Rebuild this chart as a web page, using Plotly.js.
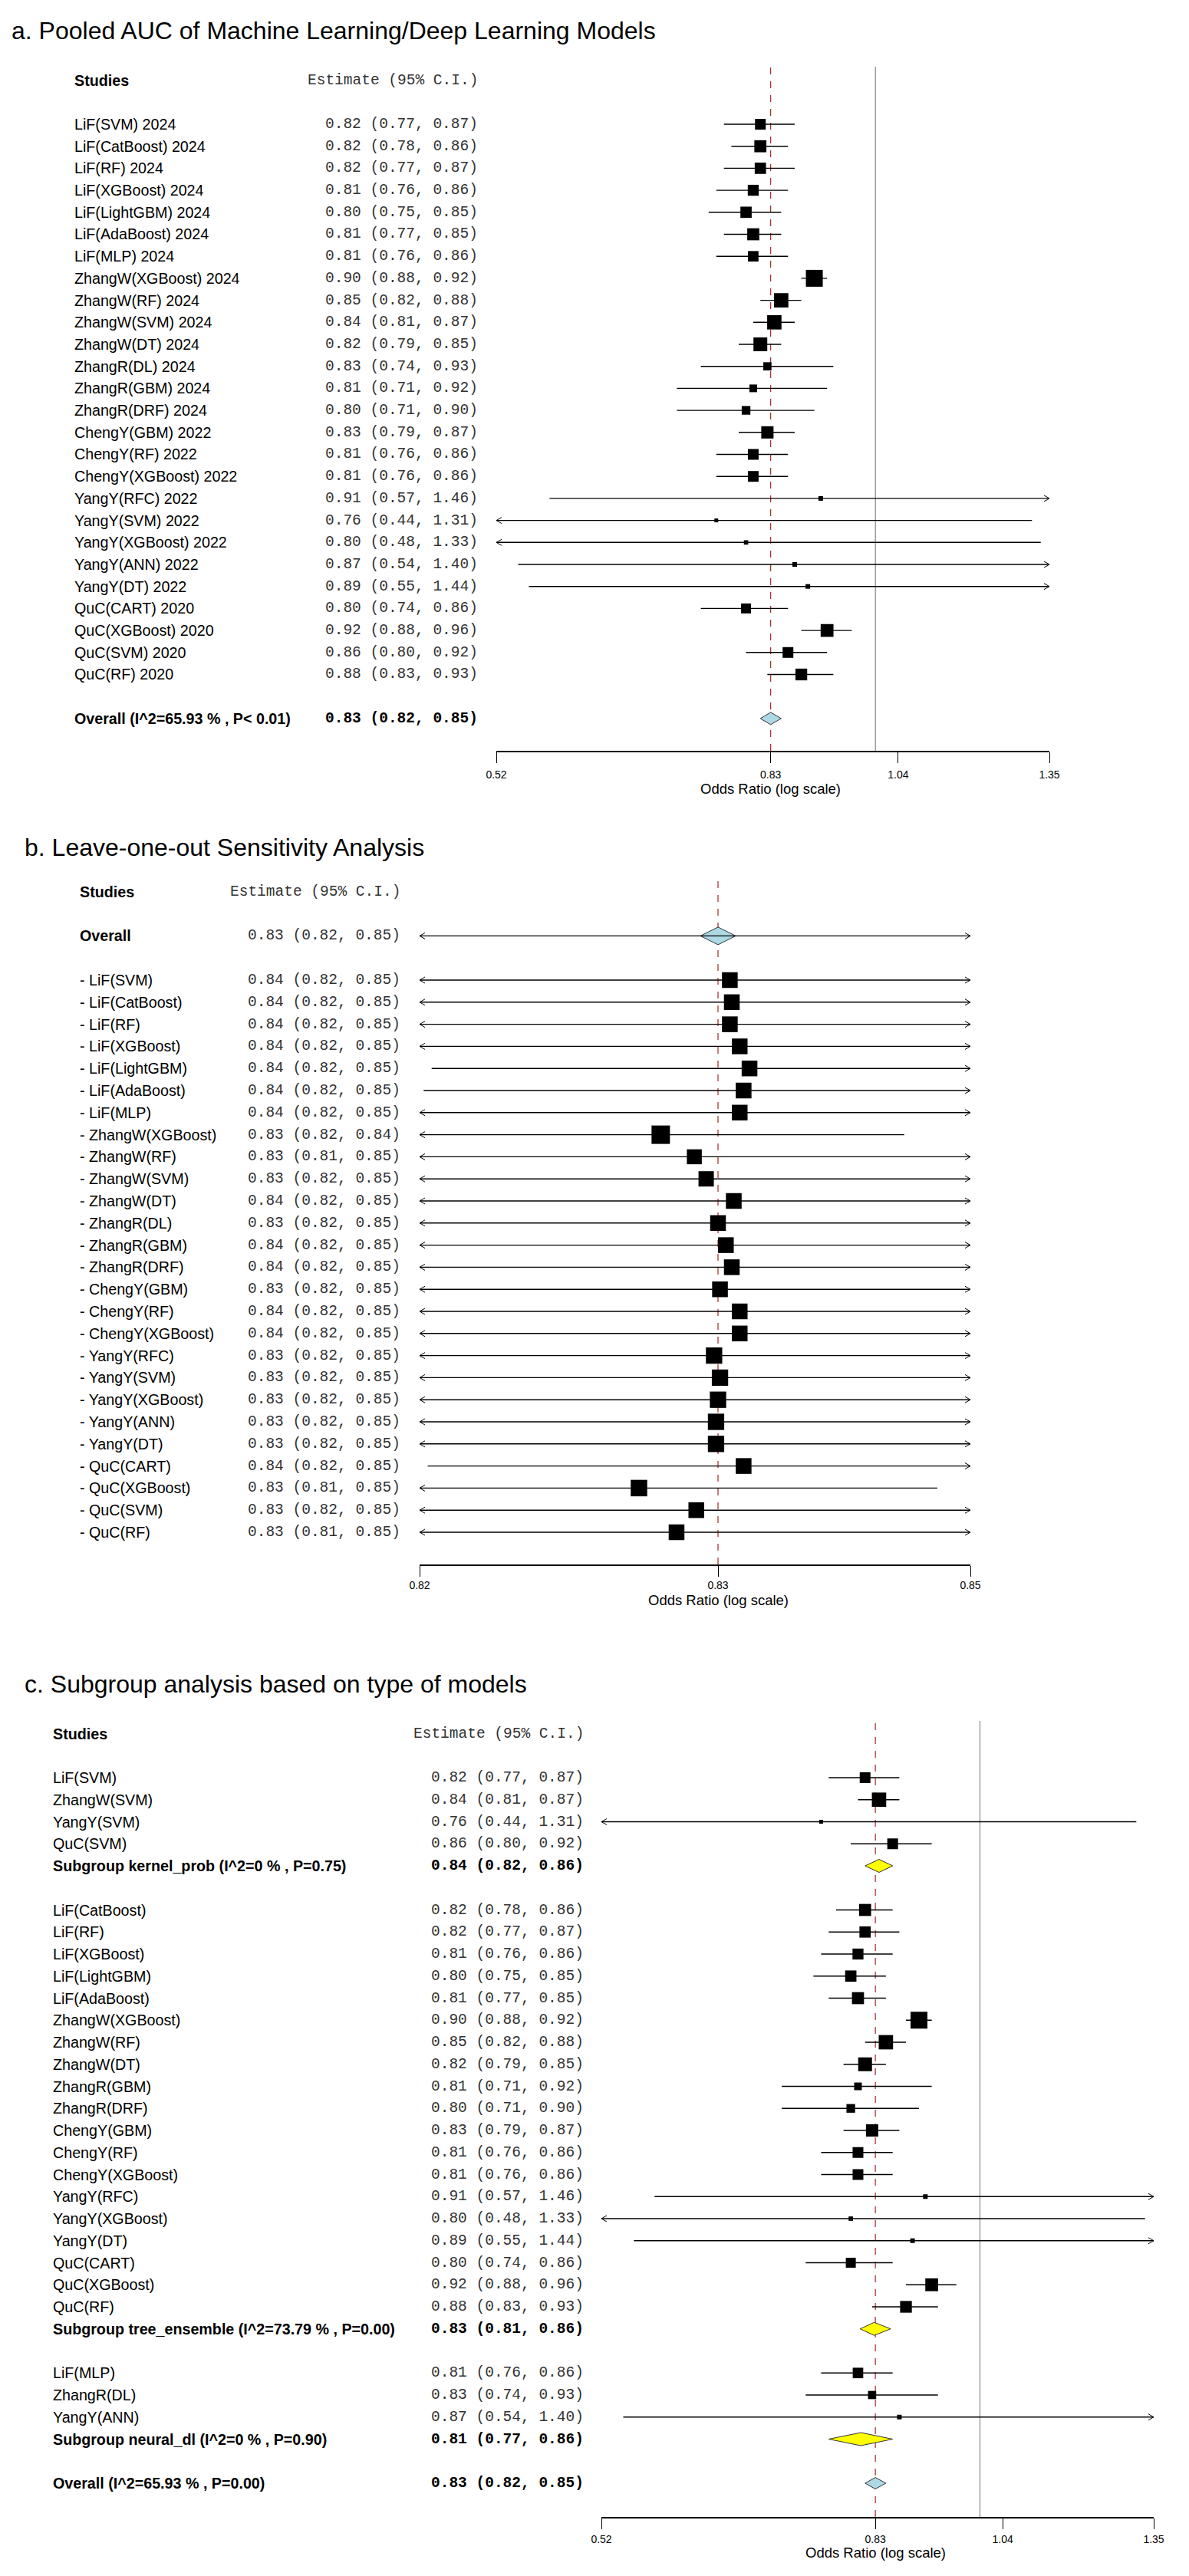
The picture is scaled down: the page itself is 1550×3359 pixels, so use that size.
<!DOCTYPE html>
<html>
<head>
<meta charset="utf-8">
<script src="https://cdn.plot.ly/plotly-3.0.1.min.js"></script>
<style>html,body{margin:0;padding:0;background:#fff}#chart{width:1550px;height:3359px}</style>
</head>
<body>
<div id="chart"></div>
<script>
// ================= DATA =================
// Panel a: pooled AUC per model
const studiesA = ["LiF(SVM) 2024","LiF(CatBoost) 2024","LiF(RF) 2024","LiF(XGBoost) 2024","LiF(LightGBM) 2024","LiF(AdaBoost) 2024","LiF(MLP) 2024","ZhangW(XGBoost) 2024","ZhangW(RF) 2024","ZhangW(SVM) 2024","ZhangW(DT) 2024","ZhangR(DL) 2024","ZhangR(GBM) 2024","ZhangR(DRF) 2024","ChengY(GBM) 2022","ChengY(RF) 2022","ChengY(XGBoost) 2022","YangY(RFC) 2022","YangY(SVM) 2022","YangY(XGBoost) 2022","YangY(ANN) 2022","YangY(DT) 2022","QuC(CART) 2020","QuC(XGBoost) 2020","QuC(SVM) 2020","QuC(RF) 2020"];
const estA  = [0.82,0.82,0.82,0.81,0.80,0.81,0.81,0.90,0.85,0.84,0.82,0.83,0.81,0.80,0.83,0.81,0.81,0.91,0.76,0.80,0.87,0.89,0.80,0.92,0.86,0.88];
const lowA  = [0.77,0.78,0.77,0.76,0.75,0.77,0.76,0.88,0.82,0.81,0.79,0.74,0.71,0.71,0.79,0.76,0.76,0.57,0.44,0.48,0.54,0.55,0.74,0.88,0.80,0.83];
const highA = [0.87,0.86,0.87,0.86,0.85,0.85,0.86,0.92,0.88,0.87,0.85,0.93,0.92,0.90,0.87,0.86,0.86,1.46,1.31,1.33,1.40,1.44,0.86,0.96,0.92,0.93];
// relative study weights (box size)
const weightA = [1.40,1.57,1.47,1.43,1.47,1.57,1.37,2.20,1.87,1.87,1.80,1.07,1.00,1.13,1.60,1.40,1.40,0.60,0.50,0.57,0.60,0.60,1.30,1.67,1.40,1.53];
const overallEst = 0.8347, overallLow = 0.82, overallHigh = 0.85;
const overallI2 = "65.93";
const ticksA = [0.52, 0.8347, 1.04, 1.35];
const tickTextA = ["0.52","0.83","1.04","1.35"];

// Panel b: leave-one-out
const studiesB = ["- LiF(SVM)","- LiF(CatBoost)","- LiF(RF)","- LiF(XGBoost)","- LiF(LightGBM)","- LiF(AdaBoost)","- LiF(MLP)","- ZhangW(XGBoost)","- ZhangW(RF)","- ZhangW(SVM)","- ZhangW(DT)","- ZhangR(DL)","- ZhangR(GBM)","- ZhangR(DRF)","- ChengY(GBM)","- ChengY(RF)","- ChengY(XGBoost)","- YangY(RFC)","- YangY(SVM)","- YangY(XGBoost)","- YangY(ANN)","- YangY(DT)","- QuC(CART)","- QuC(XGBoost)","- QuC(SVM)","- QuC(RF)"];
const estB  = [0.8353,0.8354,0.8353,0.8358,0.8363,0.8360,0.8358,0.8318,0.8335,0.8341,0.8355,0.8347,0.8351,0.8354,0.8348,0.8358,0.8358,0.8345,0.8348,0.8347,0.8346,0.8346,0.8360,0.8307,0.8336,0.8326];
const lowB  = [0.818,0.818,0.818,0.818,0.8203,0.8199,0.818,0.818,0.813,0.818,0.818,0.818,0.818,0.818,0.818,0.818,0.818,0.818,0.818,0.818,0.818,0.818,0.8201,0.813,0.818,0.813];
const highB = [0.849,0.849,0.849,0.849,0.849,0.849,0.849,0.8442,0.849,0.849,0.849,0.849,0.849,0.849,0.849,0.849,0.849,0.849,0.849,0.849,0.849,0.849,0.849,0.8459,0.849,0.849];
const weightB = [2.05,2.05,2.05,2.05,2.05,2.05,2.05,2.40,1.95,2.00,2.05,2.05,2.05,2.05,2.05,2.05,2.05,2.13,2.13,2.13,2.13,2.13,2.05,2.15,2.05,2.05];
const overallLowB = 0.818, overallHighB = 0.849;
const ticksB = [0.8197, 0.8347, 0.8476];
const tickTextB = ["0.82","0.83","0.85"];

// Panel c: subgroups by model type
const groupNames = ["kernel_prob","tree_ensemble","neural_dl"];
const groupStudies = [
  ["LiF(SVM)","ZhangW(SVM)","YangY(SVM)","QuC(SVM)"],
  ["LiF(CatBoost)","LiF(RF)","LiF(XGBoost)","LiF(LightGBM)","LiF(AdaBoost)","ZhangW(XGBoost)","ZhangW(RF)","ZhangW(DT)","ZhangR(GBM)","ZhangR(DRF)","ChengY(GBM)","ChengY(RF)","ChengY(XGBoost)","YangY(RFC)","YangY(XGBoost)","YangY(DT)","QuC(CART)","QuC(XGBoost)","QuC(RF)"],
  ["LiF(MLP)","ZhangR(DL)","YangY(ANN)"]
];
const groupI2   = ["0","73.79","0"];
const groupP    = ["0.75","0.00","0.90"];
const groupEst  = [0.84, 0.833, 0.814];
const groupLow  = [0.82, 0.813, 0.77];
const groupHigh = [0.86, 0.857, 0.86];

// ================= HELPERS =================
const W = 1550, H = 3359;
const SANS = "Liberation Sans, Arial, sans-serif";
const MONO = "Liberation Mono, Courier New, monospace";
const LBL = 19.7, MON = 19.5;
const traces = [], annotations = [], layout = {};
const fmt = (e,l,h) => e.toFixed(2) + " (" + l.toFixed(2) + ", " + h.toFixed(2) + ")";
const px = v => v / W, py = v => 1 - v / H;
const RED = "#a52a2a";

function makePanel(id, cfg){
  const xa = id === 1 ? "x" : "x" + id, ya = id === 1 ? "y" : "y" + id;
  const xk = id === 1 ? "xaxis" : "xaxis" + id, yk = id === 1 ? "yaxis" : "yaxis" + id;
  const xmin = cfg.ticks[0], xmax = cfg.ticks[cfg.ticks.length - 1];
  const ppd = (cfg.xR - cfg.xL) / (Math.log10(xmax) - Math.log10(xmin));
  const yBot = (cfg.bot - cfg.r0) / cfg.ppr, yTop = (cfg.top - cfg.r0) / cfg.ppr;
  layout[xk] = {type:"log", domain:[px(cfg.xL), px(cfg.xR)], range:[Math.log10(xmin), Math.log10(xmax)], anchor:ya,
    showline:true, linecolor:"#000", linewidth:1.6, ticks:"outside", ticklen:14, tickwidth:1, tickcolor:"#000",
    tickvals:cfg.ticks, ticktext:cfg.tickText, tickfont:{family:SANS, size:14, color:"#000"}, ticklabelstandoff:cfg.tstand||0,
    showgrid:false, zeroline:false, fixedrange:true};
  layout[yk] = {domain:[py(cfg.bot), py(cfg.top)], range:[yBot, yTop], visible:false, anchor:xa, fixedrange:true};
  return {xa, ya, xmin, xmax, ppd, ppr:cfg.ppr, yBot, yTop};
}
function vline(P, x, color, dash, width){
  traces.push({type:"scatter", mode:"lines", x:[x,x], y:[P.yBot,P.yTop], xaxis:P.xa, yaxis:P.ya,
    line:{color:color, width:width, dash:dash}, hoverinfo:"skip"});
}
function whiskers(P, rows, lows, highs){
  const lx=[], ly=[], cx=[], cy=[];
  const d = Math.pow(10, 7 / P.ppd), h = 4 / P.ppr;
  rows.forEach((r,i)=>{
    const lo = Math.max(lows[i], P.xmin), hi = Math.min(highs[i], P.xmax);
    lx.push(lo, hi, null); ly.push(r, r, null);
    if (lows[i] < P.xmin){ cx.push(P.xmin*d, P.xmin, P.xmin*d, null); cy.push(r-h, r, r+h, null); }
    if (highs[i] > P.xmax){ cx.push(P.xmax/d, P.xmax, P.xmax/d, null); cy.push(r-h, r, r+h, null); }
  });
  traces.push({type:"scatter", mode:"lines", x:lx, y:ly, xaxis:P.xa, yaxis:P.ya, line:{color:"#000", width:1.4}, hoverinfo:"skip", connectgaps:false});
  if (cx.length) traces.push({type:"scatter", mode:"lines", x:cx, y:cy, xaxis:P.xa, yaxis:P.ya, line:{color:"#000", width:1}, hoverinfo:"skip", connectgaps:false});
}
function boxes(P, rows, ests, weights, scale){
  traces.push({type:"scatter", mode:"markers", x:ests, y:rows, xaxis:P.xa, yaxis:P.ya, opacity:1,
    marker:{symbol:"square", size:weights.map(w=>w*scale), color:"#000000", opacity:1, line:{width:0}}, hoverinfo:"skip"});
}
function diamond(P, r, lo, est, hi, halfH, fill){
  const h = halfH / P.ppr;
  traces.push({type:"scatter", mode:"lines", x:[lo,est,hi,est,lo], y:[r,r-h,r,r+h,r], xaxis:P.xa, yaxis:P.ya,
    fill:"toself", fillcolor:fill, line:{color:"#333", width:1}, hoverinfo:"skip"});
}
function text(t, xPix, yref, y, anchor, font){
  annotations.push({text:t, xref:"paper", x:px(xPix), yref:yref, y:y, xanchor:anchor, yanchor:"middle",
    showarrow:false, font:font});
}
const fLabel = {family:SANS, size:LBL, color:"#000"};
const fBold  = {family:SANS, size:LBL, color:"#000", weight:"bold"};
const fMono  = {family:MONO, size:MON, color:"#333"};
const fMonoB = {family:MONO, size:MON, color:"#000", weight:"bold"};
const fTitle = {family:SANS, size:32, color:"#000"};
const fAxT   = {family:SANS, size:18.5, color:"#000"};

// ================= PANEL A =================
(function(){
  const P = makePanel(1, {ticks:ticksA, tickText:tickTextA, xL:647, xR:1368, r0:162, ppr:28.7, top:87, bot:979, tstand:4});
  const rows = studiesA.map((_,i)=>i), rOv = studiesA.length + 1;
  vline(P, 1, "#707070", "solid", 1);
  vline(P, overallEst, RED, "dash", 1.2);
  whiskers(P, rows, lowA, highA);
  boxes(P, rows, estA, weightA, 10);
  diamond(P, rOv, overallLow, overallEst, overallHigh, 8, "#add8e6");
  annotations.push({text:"a. Pooled AUC of Machine Learning/Deep Learning Models", xref:"paper", x:px(13), yref:"paper", y:py(40), xanchor:"left", yanchor:"middle", showarrow:false, font:fTitle});
  text("Studies", 95, P.ya, -2, "left", fBold);
  text("Estimate (95% C.I.)", 625, P.ya, -2, "right", fMono);
  studiesA.forEach((s,i)=>{ text(s, 95, P.ya, i, "left", fLabel); text(fmt(estA[i],lowA[i],highA[i]), 625, P.ya, i, "right", fMono); });
  text("Overall (I^2=" + overallI2 + " % , P< 0.01)", 95, P.ya, rOv, "left", fBold);
  text(fmt(overallEst, overallLow, overallHigh), 625, P.ya, rOv, "right", fMonoB);
  annotations.push({text:"Odds Ratio (log scale)", xref:P.xa, x:Math.log10(overallEst), yref:"paper", y:py(1028), xanchor:"center", yanchor:"middle", showarrow:false, font:fAxT});
})();

// ================= PANEL B =================
(function(){
  const P = makePanel(2, {ticks:ticksB, tickText:tickTextB, xL:547, xR:1265, r0:1278, ppr:28.8, top:1147, bot:2040, tstand:0});
  const rows = studiesB.map((_,i)=>i);
  vline(P, overallEst, RED, "dash", 1.2);
  const dw = Math.pow(10, 23 / P.ppd);
  diamond(P, -2, overallEst/dw, overallEst, overallEst*dw, 11.5, "#add8e6");
  whiskers(P, [-2].concat(rows), [overallLowB].concat(lowB), [overallHighB].concat(highB));
  boxes(P, rows, estB, weightB, 10);
  annotations.push({text:"b. Leave-one-out Sensitivity Analysis", xref:"paper", x:px(30), yref:"paper", y:py(1105), xanchor:"left", yanchor:"middle", showarrow:false, font:fTitle});
  text("Studies", 102, P.ya, -4, "left", fBold);
  text("Estimate (95% C.I.)", 524, P.ya, -4, "right", fMono);
  text("Overall", 102, P.ya, -2, "left", fBold);
  text(fmt(overallEst, overallLowB, overallHighB), 524, P.ya, -2, "right", fMono);
  studiesB.forEach((s,i)=>{ text(s, 102, P.ya, i, "left", fLabel); text(fmt(estB[i],lowB[i],highB[i]), 524, P.ya, i, "right", fMono); });
  annotations.push({text:"Odds Ratio (log scale)", xref:P.xa, x:Math.log10(overallEst), yref:"paper", y:py(2086), xanchor:"center", yanchor:"middle", showarrow:false, font:fAxT});
})();

// ================= PANEL C =================
(function(){
  const P = makePanel(3, {ticks:ticksA, tickText:tickTextA, xL:784, xR:1504, r0:2318, ppr:28.75, top:2244, bot:3282, tstand:2});
  const keyA = studiesA.map(s=>s.replace(/ \d{4}$/, ""));
  vline(P, 1, "#707070", "solid", 1);
  vline(P, overallEst, RED, "dash", 1.2);
  const rows=[], est=[], lo=[], hi=[], wt=[];
  let r = 0;
  text("Studies", 67, P.ya, -2, "left", fBold);
  text("Estimate (95% C.I.)", 763, P.ya, -2, "right", fMono);
  groupNames.forEach((g,gi)=>{
    groupStudies[gi].forEach(name=>{
      const k = keyA.indexOf(name);
      rows.push(r); est.push(estA[k]); lo.push(lowA[k]); hi.push(highA[k]); wt.push(weightA[k]);
      text(name, 67, P.ya, r, "left", fLabel);
      text(fmt(estA[k], lowA[k], highA[k]), 763, P.ya, r, "right", fMono);
      r++;
    });
    diamond(P, r, groupLow[gi], groupEst[gi], groupHigh[gi], 8.5, "#ffff00");
    text("Subgroup " + g + " (I^2=" + groupI2[gi] + " % , P=" + groupP[gi] + ")", 67, P.ya, r, "left", fBold);
    text(fmt(groupEst[gi], groupLow[gi], groupHigh[gi]), 763, P.ya, r, "right", fMonoB);
    r += 2;
  });
  whiskers(P, rows, lo, hi);
  boxes(P, rows, est, wt, 10);
  diamond(P, r, overallLow, overallEst, overallHigh, 7.5, "#add8e6");
  text("Overall (I^2=" + overallI2 + " % , P=0.00)", 67, P.ya, r, "left", fBold);
  text(fmt(overallEst, overallLow, overallHigh), 763, P.ya, r, "right", fMonoB);
  annotations.push({text:"c. Subgroup analysis based on type of models", xref:"paper", x:px(30), yref:"paper", y:py(2196), xanchor:"left", yanchor:"middle", showarrow:false, font:fTitle});
  annotations.push({text:"Odds Ratio (log scale)", xref:P.xa, x:Math.log10(overallEst), yref:"paper", y:py(3328), xanchor:"center", yanchor:"middle", showarrow:false, font:fAxT});
})();

Object.assign(layout, {
  width:W, height:H, margin:{l:0,r:0,t:0,b:0,pad:0}, showlegend:false,
  paper_bgcolor:"#ffffff", plot_bgcolor:"rgba(0,0,0,0)", annotations:annotations,
  font:{family:SANS, color:"#000"}, hovermode:false
});
Plotly.newPlot("chart", traces, layout, {staticPlot:true, displayModeBar:false});
</script>
</body>
</html>
